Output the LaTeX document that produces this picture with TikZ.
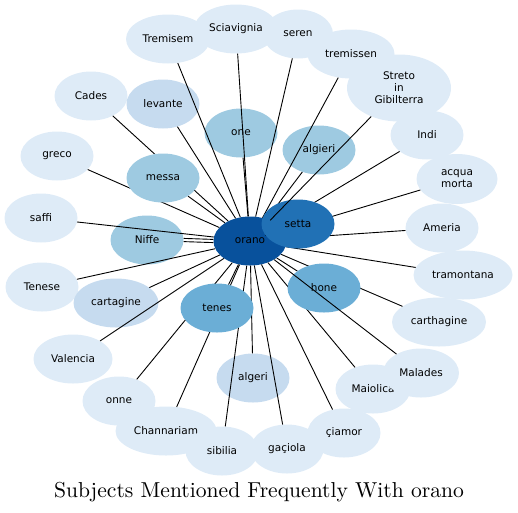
\documentclass[tikz,border=0pt]{standalone}
\usepackage{fontspec}
\usepackage{tikz}
\usepackage{xcolor}
\usetikzlibrary{shapes.geometric}
\newfontfamily\dejavu{DejaVu Sans}
\newfontfamily\titlefont{lmroman10-regular.otf}
\definecolor{blueA}{HTML}{DEEBF7}
\definecolor{blueB}{HTML}{C6DBEF}
\definecolor{blueC}{HTML}{9ECAE1}
\definecolor{blueD}{HTML}{6BAED6}
\definecolor{blueE}{HTML}{2171B5}
\definecolor{blueF}{HTML}{08519C}
\pgfdeclarelayer{back}
\pgfdeclarelayer{front}
\pgfdeclarelayer{top}
\pgfsetlayers{back,main,front,top}

\begin{document}
\begin{tikzpicture}[x=1pt,y=-1pt,
  bub/.style={ellipse,inner sep=0pt,minimum width=73pt,minimum height=49pt,
    align=center,font=\dejavu\fontsize{10.5}{12}\selectfont},
  link/.style={black,line width=0.9pt}]
  \useasboundingbox (0,0) rectangle (518,512);

  \begin{pgfonlayer}{back}
  % outer ring, clockwise from the top
  \node[bub,fill=blueA,minimum width=84pt] (Tremisem) at (168,39) {Tremisem};
  \node[bub,fill=blueA,minimum width=84pt] (Sciavignia) at (236,29) {Sciavignia};
  \node[bub,fill=blueA,minimum width=70pt] (seren) at (298,34) {seren};
  \node[bub,fill=blueA,minimum width=87pt] (tremissen) at (351,54) {tremissen};
  \node[bub,fill=blueA,minimum width=104pt,minimum height=67pt] (streto) at (399,88) {Streto\\in\\Gibilterra};
  \node[bub,fill=blueA] (Indi) at (427,135) {Indi};
  \node[bub,fill=blueA,minimum width=81pt,minimum height=50pt] (acqua) at (457,179) {acqua\\morta};
  \node[bub,fill=blueA] (Ameria) at (442,228) {Ameria};
  \node[bub,fill=blueA,minimum width=99pt] (tramontana) at (463,275) {tramontana};
  \node[bub,fill=blueA,minimum width=94pt] (carthagine) at (439,322) {carthagine};
  \node[bub,fill=blueA,minimum width=75pt] (Maiolica) at (373,389) {Maiolica};
  \node[bub,fill=blueA,minimum width=76pt] (Malades) at (421,373) {Malades};
  \node[bub,fill=blueA] (onne) at (119,401) {onne};
  \node[bub,fill=blueA,minimum width=101pt] (Channariam) at (166,431) {Channariam};
  \node[bub,fill=blueA] (sibilia) at (222,451) {sibilia};
  \node[bub,fill=blueA] (gaciola) at (287,449) {gaçiola};
  \node[bub,fill=blueA] (ciamor) at (344,433) {çiamor};
  \node[bub,fill=blueA,minimum width=79pt] (Valencia) at (73,359) {Valencia};
  \node[bub,fill=blueA] (Tenese) at (42,287) {Tenese};
  \node[bub,fill=blueA] (saffi) at (41,218) {saffi};
  \node[bub,fill=blueA] (greco) at (57,156) {greco};
  \node[bub,fill=blueA] (Cades) at (91,96) {Cades};

  % inner ring, under the links
  \node[bub,fill=blueB] (levante) at (163,104) {levante};
  \node[bub,fill=blueB,minimum width=85pt] (cartagine) at (116,303) {cartagine};
  \node[bub,fill=blueB] (algeri) at (253,378) {algeri};
  \node[bub,fill=blueC] (one) at (241,133) {one};
  \node[bub,fill=blueC] (algieri) at (319,150) {algieri};
  \node[bub,fill=blueC] (Niffe) at (147,240) {Niffe};

  % hub
  \node[bub,fill=blueF] (orano) at (250,241) {orano};
  \end{pgfonlayer}

  % inner ring, over the links
  \begin{pgfonlayer}{front}
  \node[bub,fill=blueE] (setta) at (298,224) {setta};
  \node[bub,fill=blueC] (messa) at (163,178) {messa};
  \node[bub,fill=blueD] (tenes) at (217,308) {tenes};
  \node[bub,fill=blueD] (hone) at (324,288) {hone};
  \end{pgfonlayer}

  % links from the hub
  \foreach \n in {Tremisem,Sciavignia,seren,tremissen,Indi,acqua,Ameria,
      tramontana,carthagine,Maiolica,ciamor,gaciola,sibilia,Channariam,
      onne,Valencia,Tenese,cartagine,tenes,algeri,hone,setta,algieri,one,
      levante,Cades,greco,messa,saffi}
    \draw[link] (orano) -- (\n);
  \draw[link] ([yshift=1.6pt]orano.west) -- ([yshift=1.6pt]Niffe.east);
  \draw[link] ([yshift=-1.6pt]orano.west) -- ([yshift=-1.6pt]Niffe.east);
  \begin{pgfonlayer}{top}
  \draw[link] (orano) -- (streto);
  \draw[link] (orano) -- (Malades);
  \end{pgfonlayer}

  \node[anchor=base,font=\titlefont\fontsize{21.6}{26}\selectfont] (title) at (259,497)
    {Subjects Mentioned Frequently With orano};
\end{tikzpicture}
\end{document}
